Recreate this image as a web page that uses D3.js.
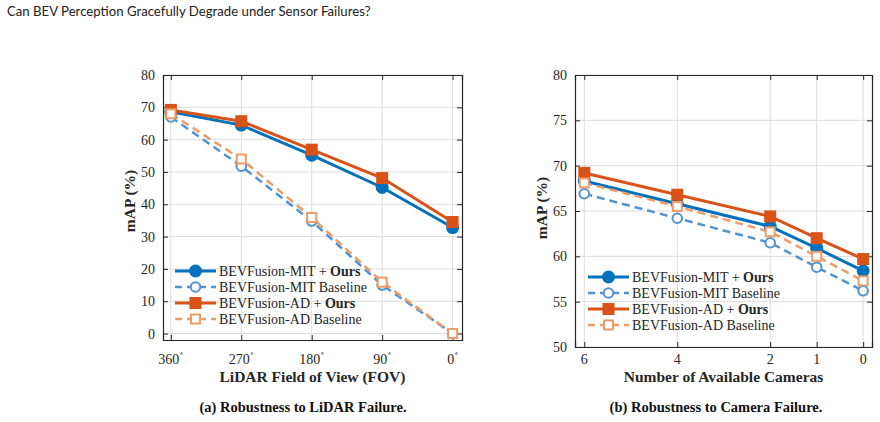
<!DOCTYPE html>
<html>
<head>
<meta charset="utf-8">
<script src="https://cdn.jsdelivr.net/npm/d3@7"></script>
<style>
  body { margin: 0; background: #fff; }
  svg { display: block; }
</style>
</head>
<body>
<svg id="fig" width="880" height="422"></svg>
<script>
// Chart values
var seriesNames = ["BEVFusion-MIT + Ours", "BEVFusion-MIT Baseline", "BEVFusion-AD + Ours", "BEVFusion-AD Baseline"];

var fovTicks = [360, 270, 180, 90, 0];
var lidarMitOurs = [68.6, 64.5, 55.2, 45.2, 32.8];
var lidarMitBase = [67.0, 51.8, 34.8, 15.0, 0];
var lidarAdOurs = [69.2, 65.7, 56.9, 48.1, 34.5];
var lidarAdBase = [68.0, 54.0, 35.9, 15.9, 0];

var camTicks = [6, 4, 2, 1, 0];
var camMitOurs = [68.3, 65.8, 63.3, 60.9, 58.4];
var camMitBase = [66.9, 64.2, 61.5, 58.8, 56.2];
var camAdOurs = [69.2, 66.8, 64.4, 62.0, 59.7];
var camAdBase = [68.1, 65.5, 62.7, 60.0, 57.3];

var lidarYTicks = [0, 10, 20, 30, 40, 50, 60, 70, 80];
var camYTicks = [50, 55, 60, 65, 70, 75, 80];

// Series styles (MATLAB default colours)
var styles = [
  {color: "#0072BD", dash: null, marker: "circle", filled: true, width: 3},
  {color: "#5092D2", dash: "8,5", marker: "circle", filled: false, width: 2.5},
  {color: "#D95319", dash: null, marker: "square", filled: true, width: 3},
  {color: "#EE9B68", dash: "8,5", marker: "square", filled: false, width: 2.5}
];

var serif = "'Liberation Serif', 'DejaVu Serif', serif";
var axisColor = "#262626";

var svg = d3.select("#fig");

// Running header
svg.append("text")
  .attr("x", 7)
  .attr("y", 16)
  .attr("font-family", "Lato, 'Open Sans', sans-serif")
  .attr("font-size", "13.2px")
  .attr("fill", "#222")
  .text("Can BEV Perception Gracefully Degrade under Sensor Failures?");

function drawMarker(g, style, x, y) {
  if (style.marker === "circle") {
    var r = style.filled ? 6.5 : 4.8;
    g.append("circle")
      .attr("cx", x).attr("cy", y).attr("r", r)
      .attr("fill", style.filled ? style.color : "#fff")
      .attr("stroke", style.color)
      .attr("stroke-width", style.filled ? 0 : 2);
  } else {
    var s = style.filled ? 12 : 9;
    g.append("rect")
      .attr("x", x - s / 2).attr("y", y - s / 2)
      .attr("width", s).attr("height", s)
      .attr("fill", style.filled ? style.color : "#fff")
      .attr("stroke", style.color)
      .attr("stroke-width", style.filled ? 0 : 2);
  }
}

function drawPanel(opt) {
  var g = svg.append("g");
  var x = d3.scaleLinear().domain(opt.xDomain).range([opt.left, opt.right]);
  var y = d3.scaleLinear().domain(opt.yDomain).range([opt.bottom, opt.top]);

  // grid
  g.selectAll(".vgrid").data(opt.xTicks).enter().append("line")
    .attr("x1", d => x(d)).attr("x2", d => x(d))
    .attr("y1", opt.top).attr("y2", opt.bottom)
    .attr("stroke", "#dcdcdc").attr("stroke-width", 1);
  g.selectAll(".hgrid").data(opt.yTicks).enter().append("line")
    .attr("x1", opt.left).attr("x2", opt.right)
    .attr("y1", d => y(d)).attr("y2", d => y(d))
    .attr("stroke", "#dcdcdc").attr("stroke-width", 1);

  // axes with inward ticks on all four sides
  var tickLen = 5;
  g.append("g").attr("transform", "translate(" + opt.left + ",0)")
    .call(d3.axisLeft(y).tickValues(opt.yTicks).tickSize(-tickLen).tickPadding(8).tickFormat(d3.format("d")));
  g.append("g").attr("transform", "translate(" + opt.right + ",0)")
    .call(d3.axisRight(y).tickValues(opt.yTicks).tickSize(-tickLen).tickFormat(""));
  g.append("g").attr("transform", "translate(0," + opt.bottom + ")")
    .call(d3.axisBottom(x).tickValues(opt.xTicks).tickSize(-tickLen).tickFormat(""));
  g.append("g").attr("transform", "translate(0," + opt.top + ")")
    .call(d3.axisTop(x).tickValues(opt.xTicks).tickSize(-tickLen).tickFormat(""));

  g.selectAll(".domain").attr("stroke", axisColor).attr("stroke-width", 1.2);
  g.selectAll(".tick line").attr("stroke", axisColor).attr("stroke-width", 1);
  g.selectAll(".tick text")
    .attr("font-family", serif).attr("font-size", "14px").attr("fill", axisColor);

  // x tick labels (with degree marks if needed)
  opt.xTicks.forEach(function(t) {
    var tx = g.append("text")
      .attr("x", x(t)).attr("y", 364)
      .attr("text-anchor", "middle")
      .attr("font-family", serif).attr("font-size", "14px").attr("fill", axisColor);
    tx.append("tspan").text(t);
    if (opt.degrees) {
      tx.append("tspan").attr("dy", -8).attr("font-size", "8px").text("\u2218");
    }
  });

  // series
  opt.series.forEach(function(vals, i) {
    var st = styles[i];
    var line = d3.line().x((d, j) => x(opt.xTicks[j])).y(d => y(d));
    g.append("path").datum(vals)
      .attr("d", line)
      .attr("fill", "none")
      .attr("stroke", st.color)
      .attr("stroke-width", st.width)
      .attr("stroke-dasharray", st.dash);
  });
  opt.series.forEach(function(vals, i) {
    vals.forEach(function(v, j) {
      drawMarker(g, styles[i], x(opt.xTicks[j]), y(v));
    });
  });

  // legend
  seriesNames.forEach(function(name, i) {
    var st = styles[i];
    var ly = opt.legendY + i * 16;
    g.append("line")
      .attr("x1", opt.legendX).attr("x2", opt.legendX + 41)
      .attr("y1", ly).attr("y2", ly)
      .attr("stroke", st.color).attr("stroke-width", st.width)
      .attr("stroke-dasharray", st.dash ? "7,5" : null);
    drawMarker(g, st, opt.legendX + 20.5, ly);
    var lt = g.append("text")
      .attr("x", opt.legendX + 44).attr("y", ly + 4.5)
      .attr("font-family", serif).attr("font-size", "14px").attr("fill", axisColor);
    var parts = name.split("Ours");
    lt.append("tspan").text(parts[0]);
    if (parts.length > 1) lt.append("tspan").attr("font-weight", "bold").text("Ours");
  });

  // axis titles
  var cx = (opt.left + opt.right) / 2;
  g.append("text")
    .attr("transform", "translate(" + (opt.left - 28) + "," + opt.yTitleY + ") rotate(-90)")
    .attr("text-anchor", "middle")
    .attr("font-family", serif).attr("font-size", "15.5px").attr("font-weight", "bold").attr("fill", axisColor)
    .text("mAP (%)");
  g.append("text")
    .attr("x", cx).attr("y", 382)
    .attr("text-anchor", "middle")
    .attr("font-family", serif).attr("font-size", "15.5px").attr("font-weight", "bold").attr("fill", axisColor)
    .text(opt.xTitle);
  g.append("text")
    .attr("x", opt.captionX).attr("y", 412)
    .attr("text-anchor", "middle")
    .attr("font-family", serif).attr("font-size", "14.5px").attr("font-weight", "bold").attr("fill", "#111")
    .text(opt.caption);
}

drawPanel({
  left: 163, right: 462, top: 75, bottom: 340,
  xDomain: [370, -12], yDomain: [-2, 80],
  xTicks: fovTicks, yTicks: lidarYTicks, degrees: true,
  series: [lidarMitOurs, lidarMitBase, lidarAdOurs, lidarAdBase],
  legendX: 175, legendY: 271, yTitleY: 201,
  xTitle: "LiDAR Field of View (FOV)",
  caption: "(a) Robustness to LiDAR Failure.", captionX: 303
});

drawPanel({
  left: 575, right: 872, top: 75, bottom: 347,
  xDomain: [6.2, -0.19], yDomain: [50, 80],
  xTicks: camTicks, yTicks: camYTicks, degrees: false,
  series: [camMitOurs, camMitBase, camAdOurs, camAdBase],
  legendX: 588, legendY: 277, yTitleY: 208,
  xTitle: "Number of Available Cameras",
  caption: "(b) Robustness to Camera Failure.", captionX: 716
});
</script>
</body>
</html>
